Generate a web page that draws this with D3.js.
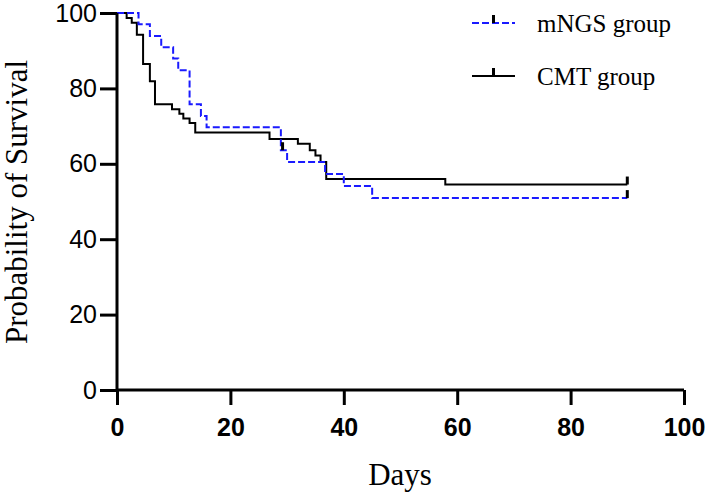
<!DOCTYPE html>
<html><head><meta charset="utf-8">
<script src="https://cdn.jsdelivr.net/npm/d3@7"></script>
<style>body{margin:0;background:#fff}svg{display:block}</style>
</head><body>
<svg id="c" width="708" height="494"></svg>
<script>
// Kaplan-Meier data (days, % survival)
const mngsTimes = [0, 3.8, 5.8, 7.8, 9.9, 10.8, 12.8, 14.8, 15.8, 28.9, 30.0, 36.7, 40.0, 45.0, 90];
const mngsSurv  = [100, 97.0, 93.9, 90.9, 87.9, 84.8, 75.8, 72.7, 69.7, 63.6, 60.5, 57.3, 54.1, 50.9, 50.9];
const mngsCensor = [29.2, 90];

const cmtTimes = [0, 1.7, 2.6, 3.5, 4.6, 5.8, 6.7, 9.7, 11.0, 11.7, 12.8, 13.8, 26.9, 31.9, 34.0, 35.0, 35.9, 36.9, 57.9, 90];
const cmtSurv  = [100, 98.7, 97.4, 94.2, 86.5, 81.9, 75.8, 74.5, 73.3, 72.0, 70.8, 68.3, 66.6, 65.3, 63.6, 62.2, 60.5, 56.0, 54.5, 54.5];
const cmtCensor = [90];

const xTicks = [0, 20, 40, 60, 80, 100];
const yTicks = [0, 20, 40, 60, 80, 100];
const seriesNames = ["mNGS group", "CMT group"];

const svg = d3.select("#c");
const x = d3.scaleLinear().domain([0, 100]).range([117, 684]);
const y = d3.scaleLinear().domain([0, 100]).range([390, 13]);

function stepAt(times, surv, t) {
  let v = surv[0];
  for (let i = 0; i < times.length; i++) if (times[i] <= t) v = surv[i];
  return v;
}

const line = d3.line().x(d => x(d[0])).y(d => y(d[1])).curve(d3.curveStepAfter);

const mData = mngsTimes.map((t, i) => [t, mngsSurv[i]]);
const cData = cmtTimes.map((t, i) => [t, cmtSurv[i]]);

svg.append("path").attr("d", line(cData)).attr("fill", "none")
  .attr("stroke", "#000").attr("stroke-width", 2);
svg.append("path").attr("d", line(mData)).attr("fill", "none")
  .attr("stroke", "#1a1aff").attr("stroke-width", 2).attr("stroke-dasharray", "7,3");

// censor ticks
function censor(times, surv, list) {
  list.forEach(t => {
    const v = stepAt(times, surv, t);
    svg.append("line").attr("x1", x(t)).attr("x2", x(t))
      .attr("y1", y(v)).attr("y2", y(v) - 8)
      .attr("stroke", "#000").attr("stroke-width", 3);
  });
}
censor(mngsTimes, mngsSurv, mngsCensor);
censor(cmtTimes, cmtSurv, cmtCensor);

// axes
const xAxis = svg.append("g").attr("transform", "translate(0,390)")
  .call(d3.axisBottom(x).tickValues(xTicks).tickSize(15).tickPadding(13).tickFormat(d3.format("d")));
const yAxis = svg.append("g").attr("transform", "translate(117,0)")
  .call(d3.axisLeft(y).tickValues(yTicks).tickSize(17).tickPadding(3).tickFormat(d3.format("d")));
[xAxis, yAxis].forEach(g => {
  g.select(".domain").attr("stroke", "#000").attr("stroke-width", 3);
  g.selectAll(".tick line").attr("stroke", "#000").attr("stroke-width", 3);
});
xAxis.selectAll("text").attr("font-family", "Liberation Sans, Arial, sans-serif")
  .attr("font-weight", "bold").attr("font-size", 25).attr("fill", "#000");
yAxis.selectAll("text").attr("font-family", "Liberation Sans, Arial, sans-serif")
  .attr("font-size", 25).attr("fill", "#000");
xAxis.select(".domain").attr("d", "M117,0H684");
yAxis.select(".domain").attr("d", "M0,390V13");

// axis titles
svg.append("text").attr("x", 400).attr("y", 485).attr("text-anchor", "middle")
  .attr("font-family", "Liberation Serif, Times New Roman, serif").attr("font-size", 31)
  .text("Days");
svg.append("text").attr("transform", "translate(27,202) rotate(-90)").attr("text-anchor", "middle")
  .attr("font-family", "Liberation Serif, Times New Roman, serif").attr("font-size", 31)
  .text("Probability of Survival");

// legend
const leg = [{name: seriesNames[0], y: 23, dash: "7,3", color: "#1a1aff"},
             {name: seriesNames[1], y: 76, dash: null, color: "#000"}];
leg.forEach(l => {
  svg.append("line").attr("x1", 472).attr("x2", 515).attr("y1", l.y).attr("y2", l.y)
    .attr("stroke", l.color).attr("stroke-width", 2).attr("stroke-dasharray", l.dash);
  svg.append("line").attr("x1", 493.5).attr("x2", 493.5).attr("y1", l.y).attr("y2", l.y - 8)
    .attr("stroke", "#000").attr("stroke-width", 3);
  svg.append("text").attr("x", 537).attr("y", l.y + 9)
    .attr("font-family", "Liberation Serif, Times New Roman, serif").attr("font-size", 25)
    .text(l.name);
});
</script>
</body></html>
